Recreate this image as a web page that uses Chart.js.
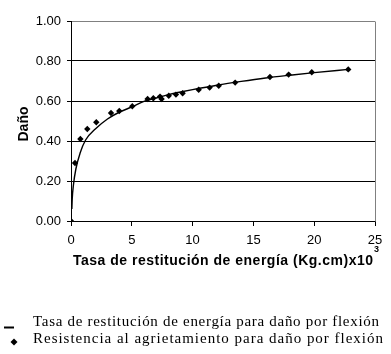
<!DOCTYPE html>
<html>
<head>
<meta charset="utf-8">
<script src="https://cdn.jsdelivr.net/npm/chart.js@4.4.1/dist/chart.umd.min.js"></script>
<style>
    html, body { margin: 0; padding: 0; background: #fff; }
    #chart { display: block; }
</style>
</head>
<body>
<canvas id="chart" width="391" height="354"></canvas>
<script>
// fitted curve
var fitX = [0.07, 0.1, 0.2, 0.4, 0.75, 1.2, 2, 3, 4, 5, 6, 7, 8, 9, 10, 12, 14, 16, 18, 20, 22.8];
var fitY = [0.06, 0.11, 0.18, 0.26, 0.34, 0.405, 0.46, 0.51, 0.545, 0.57, 0.598, 0.615, 0.632, 0.645, 0.657, 0.679, 0.698, 0.715, 0.729, 0.742, 0.758];

// measured points (diamonds)
var testX = [0, 0.33, 0.77, 1.34, 2.08, 3.29, 3.97, 5.04, 6.3, 6.77, 7.32, 7.45, 8.04, 8.63, 9.18, 10.5, 11.4, 12.15, 13.5, 16.36, 17.9, 19.8, 22.8];
var testY = [0, 0.29, 0.41, 0.46, 0.494, 0.54, 0.55, 0.574, 0.61, 0.614, 0.622, 0.61, 0.626, 0.632, 0.639, 0.656, 0.667, 0.676, 0.692, 0.72, 0.732, 0.744, 0.758];

var xTicks = [0, 5, 10, 15, 20, 25];
var yTicks = [0, 0.2, 0.4, 0.6, 0.8, 1.0];

var xTitle = 'Tasa de restitución de energía (Kg.cm)x10';
var xTitleSup = '3';
var yTitle = 'Daño';
var legendLabels = [
    'Tasa de restitución de energía para daño por flexión',
    'Resistencia al agrietamiento para daño por flexión'
];

var SANS = '"Liberation Sans", Arial, sans-serif';
var SERIF = '"Liberation Serif", "Times New Roman", serif';

function toPoints(xs, ys) {
    var out = [];
    for (var i = 0; i < xs.length; i++) {
        out.push({ x: xs[i], y: ys[i] });
    }
    return out;
}

// fits text into a given width by stretching the letter spacing
function fillSpaced(ctx, text, x, y, targetWidth) {
    var w = ctx.measureText(text).width;
    var extra = (targetWidth - w) / Math.max(text.length - 1, 1);
    if ('letterSpacing' in ctx) {
        ctx.letterSpacing = extra + 'px';
        ctx.fillText(text, x, y);
        ctx.letterSpacing = '0px';
    } else {
        ctx.save();
        ctx.translate(x, y);
        ctx.scale(targetWidth / w, 1);
        ctx.fillText(text, 0, 0);
        ctx.restore();
    }
}

var decorations = {
    id: 'decorations',
    afterDraw: function (chart) {
        var ctx = chart.ctx;
        var area = chart.chartArea;
        ctx.save();

        // grey frame on the right
        ctx.strokeStyle = '#808080';
        ctx.lineWidth = 1;
        ctx.beginPath();
        ctx.moveTo(Math.round(area.right) + 0.5, Math.round(area.top) + 0.5);
        ctx.lineTo(Math.round(area.right) + 0.5, Math.round(area.bottom) + 0.5);
        ctx.stroke();

        ctx.fillStyle = '#000';

        // y title
        ctx.save();
        ctx.translate(28, 124);
        ctx.rotate(-Math.PI / 2);
        ctx.font = 'bold 14px ' + SANS;
        ctx.textAlign = 'center';
        ctx.textBaseline = 'alphabetic';
        ctx.fillText(yTitle, 0, 0);
        ctx.restore();

        // x title with superscript
        ctx.font = 'bold 14px ' + SANS;
        ctx.textAlign = 'left';
        ctx.textBaseline = 'alphabetic';
        fillSpaced(ctx, xTitle, 73, 265, 300);
        ctx.font = 'bold 9px ' + SANS;
        ctx.fillText(xTitleSup, 374, 252);

        // legend
        ctx.strokeStyle = '#000';
        ctx.lineWidth = 2;
        ctx.beginPath();
        ctx.moveTo(4, 327.5);
        ctx.lineTo(14, 327.5);
        ctx.stroke();

        ctx.beginPath();
        ctx.moveTo(14, 338.5);
        ctx.lineTo(17.5, 342);
        ctx.lineTo(14, 345.5);
        ctx.lineTo(10.5, 342);
        ctx.closePath();
        ctx.fill();

        ctx.font = '15px ' + SERIF;
        fillSpaced(ctx, legendLabels[0], 33, 326, 346);
        fillSpaced(ctx, legendLabels[1], 33, 343, 350);

        ctx.restore();
    }
};

var chart = new Chart(document.getElementById('chart'), {
    type: 'scatter',
    data: {
        datasets: [
            {
                label: legendLabels[1],
                data: toPoints(testX, testY),
                pointStyle: 'rectRot',
                pointRadius: 3.2,
                backgroundColor: '#000',
                borderColor: '#000',
                borderWidth: 0,
                showLine: false
            },
            {
                label: legendLabels[0],
                data: toPoints(fitX, fitY),
                showLine: true,
                pointRadius: 0,
                borderColor: '#000',
                borderWidth: 1.4,
                cubicInterpolationMode: 'monotone'
            }
        ]
    },
    options: {
        responsive: false,
        animation: false,
        devicePixelRatio: 1,
        layout: {
            padding: { top: 21, right: 16, left: 0, bottom: 0 }
        },
        plugins: {
            legend: { display: false },
            tooltip: { enabled: false }
        },
        scales: {
            x: {
                type: 'linear',
                min: 0,
                max: 25,
                afterBuildTicks: function (scale) {
                    scale.ticks = xTicks.map(function (v) { return { value: v }; });
                },
                afterFit: function (scale) {
                    scale.height = 133;
                },
                ticks: {
                    color: '#000',
                    font: { family: SANS, size: 13 },
                    padding: 7,
                    maxRotation: 0,
                    callback: function (v) { return String(v); }
                },
                grid: {
                    drawOnChartArea: false,
                    drawTicks: true,
                    tickLength: 5,
                    color: '#000',
                    tickColor: '#000'
                },
                border: { color: '#000', width: 1 }
            },
            y: {
                min: 0,
                max: 1,
                afterBuildTicks: function (scale) {
                    scale.ticks = yTicks.map(function (v) { return { value: v }; });
                },
                afterFit: function (scale) {
                    scale.width = 71;
                },
                ticks: {
                    color: '#000',
                    font: { family: SANS, size: 13 },
                    padding: 6,
                    callback: function (v) { return v.toFixed(2); }
                },
                grid: {
                    drawTicks: true,
                    tickLength: 4,
                    color: function (c) {
                        return c.tick && c.tick.value === 1 ? '#808080' : '#000';
                    },
                    tickColor: '#000'
                },
                border: { color: '#000', width: 1 }
            }
        }
    },
    plugins: [decorations]
});
</script>
</body>
</html>
